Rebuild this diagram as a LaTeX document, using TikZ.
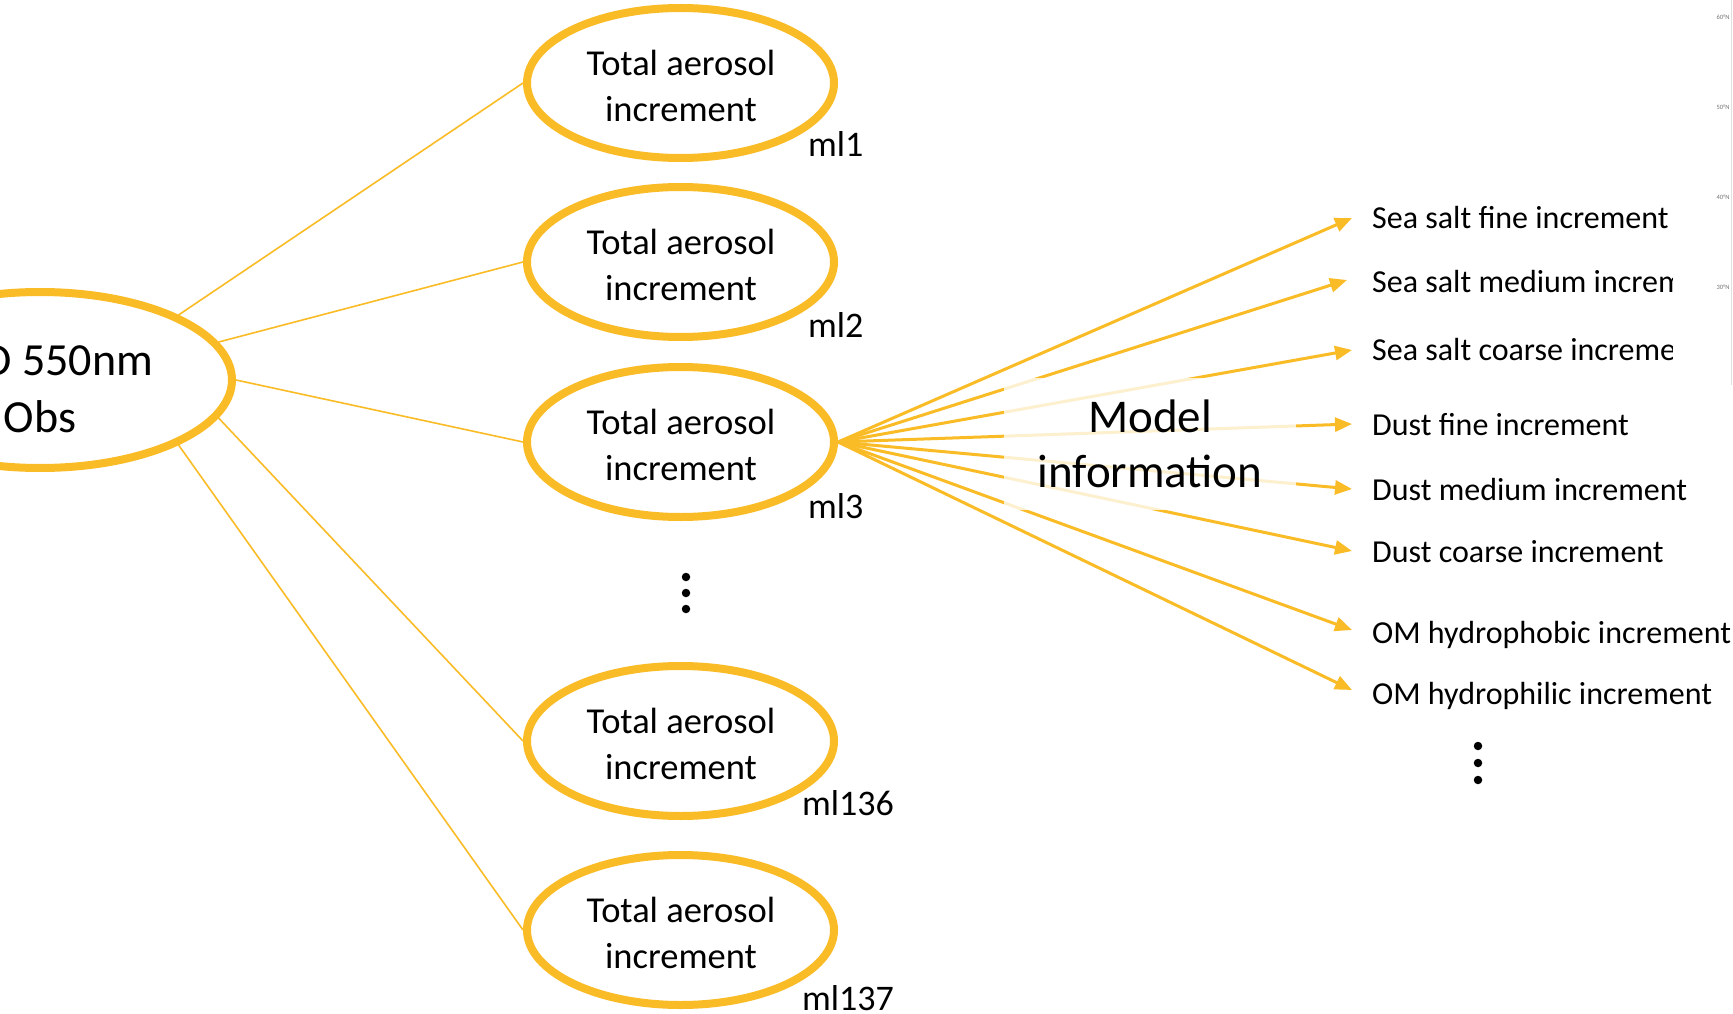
\documentclass[tikz,border=0pt]{standalone}
\usepackage{fontspec}
\setmainfont{Carlito}
\usetikzlibrary{shapes.geometric,arrows.meta}
\definecolor{gold}{RGB}{250,188,38}
\tikzset{
  ell/.style={ellipse, draw=gold, line width=8pt, fill=white, minimum width=307pt, minimum height=150pt, inner sep=0pt, align=center, font=\fontsize{36}{46}\selectfont},
  elltext/.style={inner sep=0pt, align=center, font=\fontsize{36.5}{46}\selectfont},
  thinline/.style={draw=gold, line width=1.6pt},
  arr/.style={draw=gold, line width=3pt, -{Triangle[length=17pt,width=14pt]}},
  lab/.style={anchor=base west, inner sep=0pt, font=\fontsize{32}{38}\selectfont},
  mllab/.style={anchor=base west, inner sep=0pt, font=\fontsize{36}{40}\selectfont},
  bigdot/.style={circle, fill=black, inner sep=0pt, minimum size=8.5pt},
  maplab/.style={inner sep=0pt, text=black!55, font=\fontsize{6.5}{7}\selectfont},
}
\begin{document}
\begin{tikzpicture}[x=1pt,y=-1pt]
\clip (0,0) rectangle (1733,1014);
\fill[white] (0,0) rectangle (1733,1014);

% left ellipse
\node[ell, minimum width=384pt, minimum height=176pt] (L) at (40,380) {};
\node[inner sep=0pt, align=center, font=\fontsize{46}{57}\selectfont] (Ltext) at (40,389.5) {AOD 550nm\\Obs};

% model-level ellipses
\node[ell] (m1) at (680.5,83) {};
\node[ell] (m2) at (680.5,262) {};
\node[ell] (m3) at (680.5,442) {};
\node[ell] (m136) at (680.5,741) {};
\node[ell] (m137) at (680.5,930) {};
\node[elltext] (t1) at (681,86) {Total aerosol\\increment};
\node[elltext] (t2) at (681,265) {Total aerosol\\increment};
\node[elltext] (t3) at (681,445) {Total aerosol\\increment};
\node[elltext] (t136) at (681,744) {Total aerosol\\increment};
\node[elltext] (t137) at (681,933) {Total aerosol\\increment};

\node[mllab] (l1) at (808,157) {ml1};
\node[mllab] (l2) at (808,337) {ml2};
\node[mllab] (l3) at (808,518) {ml3};
\node[mllab] (l136) at (802,815) {ml136};
\node[mllab] (l137) at (802,1010) {ml137};

% connectors from observation
\draw[thinline] (L.north east) -- (m1.west);
\draw[thinline] (L.12) -- (m2.west);
\draw[thinline] (L.east) -- (m3.west);
\draw[thinline] (L.-12) -- (m136.west);
\draw[thinline] (L.south east) -- (m137.west);

% vertical dots
\node[bigdot] (d1) at (686,577) {};
\node[bigdot] (d2) at (686,593) {};
\node[bigdot] (d3) at (686,609) {};

% species labels
\node[lab] (s1) at (1372,229) {Sea salt fine increment};
\begin{scope}
\clip (0,0) rectangle (1672,1014);
\node[lab] (s2) at (1372,292) {Sea salt medium increment};
\node[lab] (s3) at (1372,360) {Sea salt coarse increment};
\end{scope}
\node[lab] (u1) at (1372,435) {Dust fine increment};
\node[lab] (u2) at (1372,500) {Dust medium increment};
\node[lab] (u3) at (1372,562) {Dust coarse increment};
\node[lab] (o1) at (1372,643) {OM hydrophobic increment};
\node[lab] (o2) at (1372,704) {OM hydrophilic increment};

\node[bigdot] (r1) at (1478,746) {};
\node[bigdot] (r2) at (1478,763) {};
\node[bigdot] (r3) at (1478,780) {};

% arrows
\draw[arr] (m3.east) -- ([xshift=-20pt,yshift=11pt]s1.base west);
\draw[arr] (m3.east) -- ([xshift=-25pt,yshift=12pt]s2.base west);
\draw[arr] (m3.east) -- ([xshift=-20pt,yshift=10pt]s3.base west);
\draw[arr] (m3.east) -- ([xshift=-20pt,yshift=11pt]u1.base west);
\draw[arr] (m3.east) -- ([xshift=-20pt,yshift=11pt]u2.base west);
\draw[arr] (m3.east) -- ([xshift=-20pt,yshift=11pt]u3.base west);
\draw[arr] (m3.east) -- ([xshift=-20pt,yshift=13pt]o1.base west);
\draw[arr] (m3.east) -- ([xshift=-20pt,yshift=14pt]o2.base west);

% model information box
\node[fill=white, fill opacity=0.78, text opacity=1, minimum width=292pt, minimum height=132pt, inner sep=0pt, align=center, font=\fontsize{47}{55}\selectfont] (mi) at (1150,444) {Model\\information};

% cropped map strip at the right edge
\draw[black!12, line width=0.8pt] (1731.5,0) -- (1731.5,385);
\node[maplab] (n60) at (1723,17) {60°N};
\node[maplab] (n50) at (1723,107) {50°N};
\node[maplab] (n40) at (1723,197) {40°N};
\node[maplab] (n30) at (1723,287) {30°N};
\end{tikzpicture}
\end{document}
